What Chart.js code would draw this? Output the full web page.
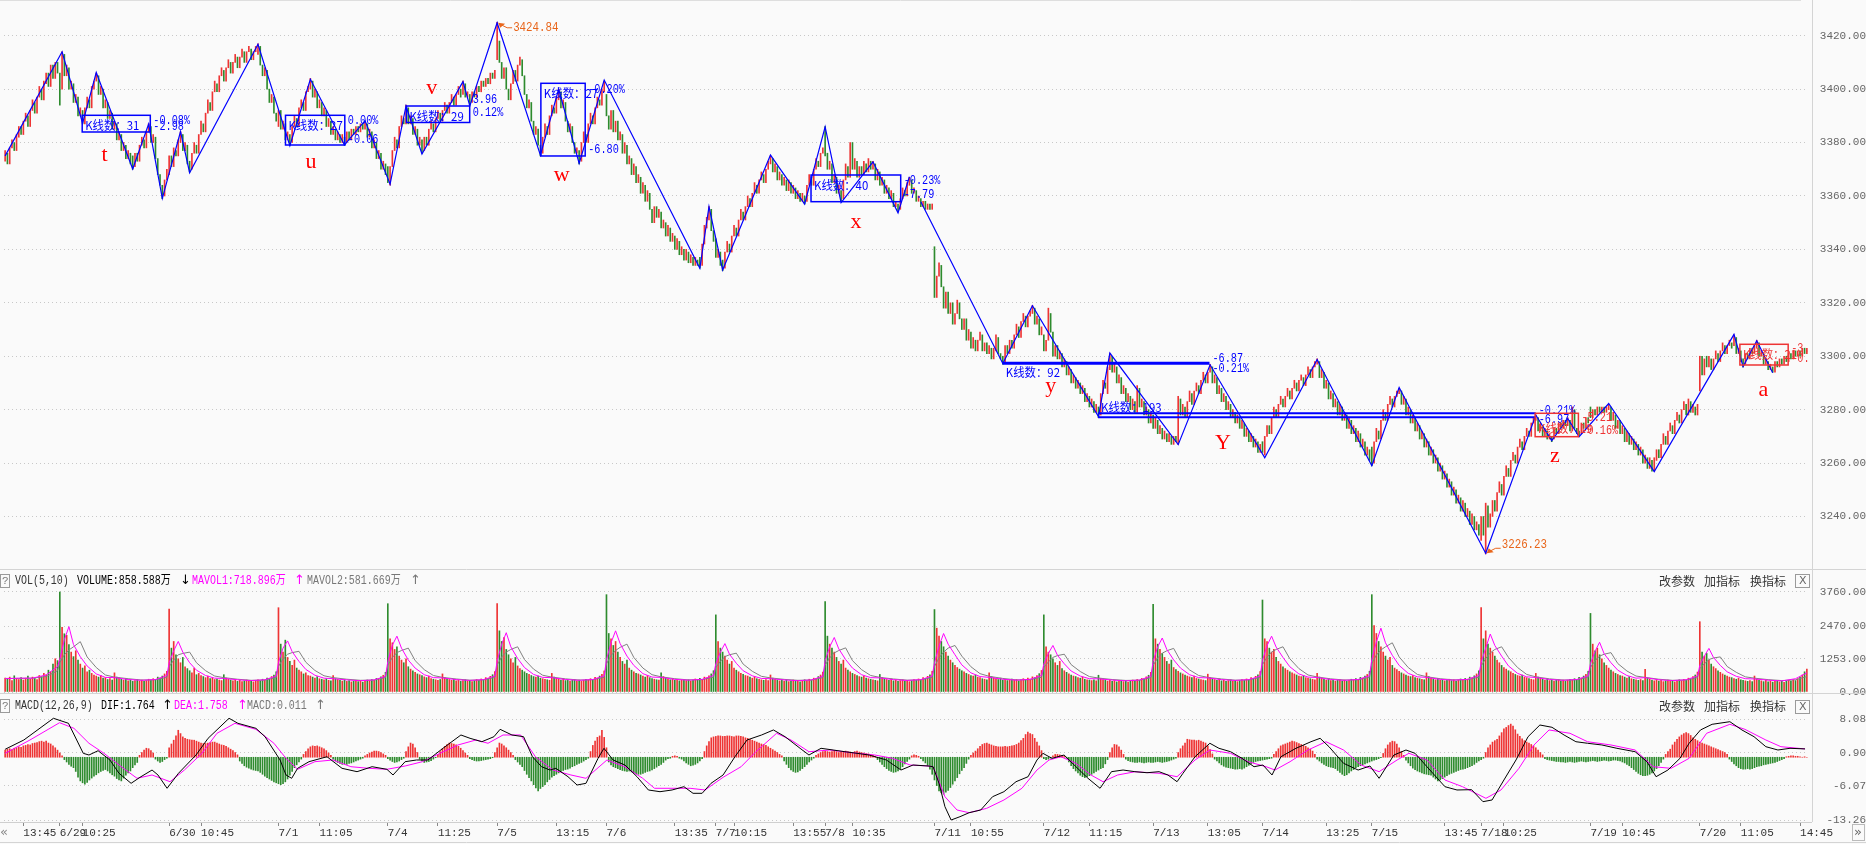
<!DOCTYPE html>
<html><head><meta charset="utf-8"><title>K线图</title>
<script src="https://cdn.jsdelivr.net/npm/chart.js@4.4.1/dist/chart.umd.min.js"></script>
<style>
html,body{margin:0;padding:0;background:#fafafa;overflow:hidden;}
#wrap{position:relative;width:1866px;height:844px;background:#fafafa;}
#wrap canvas{position:absolute;left:0;}
</style></head>
<body><div id="wrap">
<canvas id="cPrice" width="1866" height="570" style="top:0px;width:1866px;height:570px"></canvas>
<canvas id="cVol" width="1866" height="130" style="top:570px;width:1866px;height:130px"></canvas>
<canvas id="cMacd" width="1866" height="150" style="top:694px;width:1866px;height:150px"></canvas>
</div>
<script>
// ---------------- DATA ----------------
const days = ['6/28','6/29','6/30','7/1','7/4','7/5','7/6','7/7','7/8','7/11','7/12','7/13','7/14','7/15','7/18','7/19','7/20'];

const opens = [
3373,3376,3372,3378,3380,3377,3382,3386,3383,3388,3390,3386,3392,3395,3391,3397,3400,3396,3402,3406,
3401,3409,3404,3410,3406,3400,3413,3405,3408,3400,3402,3395,3397,3390,3392,3387,3393,3396,3393,3400,
3403,3405,3398,3400,3393,3395,3389,3391,3385,3387,3381,3383,3377,3379,3374,3376,3375,3371,3376,3373,
3379,3381,3378,3384,3386,3380,3382,3374,3368,3364,3360,3366,3368,3375,3371,3377,3375,3380,3383,3377,
3379,3373,3370,3376,3379,3376,3383,3387,3384,3391,3395,3392,3399,3402,3399,3405,3407,3403,3408,3410,
3406,3410,3412,3408,3412,3414,3410,3414,3415,3411,3414,3413,3416,3409,3405,3407,3400,3395,3397,3391,
3386,3392,3385,3387,3381,3383,3380,3386,3389,3386,3393,3395,3392,3399,3400,3403,3397,3399,3393,3395,
3390,3392,3386,3388,3383,3385,3381,3383,3380,3382,3380,3384,3381,3385,3383,3386,3384,3387,3385,3387,
3382,3384,3378,3380,3374,3376,3370,3372,3371,3364,3371,3377,3381,3378,3386,3389,3387,3393,3387,3389,
3383,3385,3379,3381,3377,3382,3379,3385,3387,3384,3389,3391,3388,3392,3394,3391,3395,3397,3394,3398,
3400,3398,3402,3397,3398,3395,3399,3397,3401,3399,3403,3401,3404,3402,3406,3404,3411,3418,3410,3404,
3408,3400,3396,3402,3407,3403,3409,3411,3405,3398,3393,3395,3388,3383,3385,3379,3376,3382,3386,3383,
3390,3393,3391,3396,3399,3393,3395,3388,3384,3386,3380,3376,3377,3373,3380,3383,3380,3387,3390,3387,
3393,3396,3394,3399,3398,3390,3385,3392,3384,3388,3381,3383,3376,3379,3372,3374,3368,3371,3365,3367,
3361,3364,3358,3361,3355,3350,3356,3352,3354,3348,3350,3345,3348,3343,3345,3340,3343,3338,3340,3336,
3339,3335,3337,3334,3336,3337,3334,3342,3348,3351,3355,3347,3344,3337,3339,3336,3333,3339,3342,3339,
3345,3348,3345,3351,3354,3351,3356,3359,3356,3361,3364,3361,3366,3368,3365,3370,3372,3374,3369,3371,
3366,3368,3364,3366,3362,3365,3361,3363,3359,3361,3358,3360,3358,3364,3367,3364,3370,3373,3371,3376,
3386,3376,3370,3372,3365,3367,3361,3362,3359,3366,3371,3367,3380,3370,3373,3367,3371,3368,3372,3369,
3373,3370,3372,3366,3369,3364,3366,3361,3363,3359,3361,3356,3357,3355,3359,3362,3360,3364,3366,3361,
3362,3358,3359,3356,3358,3355,3357,3355,3341,3322,3330,3334,3326,3318,3324,3316,3320,3312,3316,3320,
3314,3310,3314,3306,3309,3303,3306,3302,3306,3308,3302,3305,3301,3303,3299,3302,3307,3301,3300,3298,
3304,3301,3306,3303,3308,3311,3307,3313,3315,3311,3315,3316,3318,3312,3314,3308,3308,3302,3306,3316,
3309,3300,3304,3299,3301,3296,3298,3293,3295,3290,3292,3288,3290,3286,3288,3283,3285,3281,3283,3279,
3281,3278,3286,3290,3286,3295,3300,3294,3296,3290,3292,3286,3288,3283,3285,3280,3283,3279,3288,3281,
3283,3278,3280,3275,3278,3273,3276,3271,3273,3269,3271,3268,3270,3267,3270,3267,3284,3278,3281,3277,
3283,3286,3282,3287,3289,3286,3291,3293,3290,3294,3296,3290,3292,3286,3288,3283,3285,3280,3282,3277,
3279,3275,3277,3273,3275,3270,3272,3268,3270,3266,3268,3264,3268,3263,3270,3274,3271,3277,3280,3277,
3282,3284,3281,3285,3287,3284,3288,3290,3287,3291,3292,3289,3293,3295,3292,3296,3297,3298,3292,3294,
3288,3290,3284,3286,3281,3283,3278,3281,3276,3278,3273,3276,3271,3273,3268,3271,3266,3268,3263,3265,
3266,3260,3268,3272,3269,3276,3279,3276,3282,3284,3281,3285,3286,3287,3282,3284,3278,3280,3275,3277,
3272,3274,3269,3271,3266,3268,3263,3265,3260,3262,3257,3259,3254,3256,3251,3253,3248,3250,3245,3247,
3242,3245,3240,3242,3237,3240,3235,3237,3231,3240,3226,3244,3236,3240,3246,3242,3249,3252,3248,3255,
3258,3255,3261,3263,3260,3266,3268,3265,3270,3272,3270,3275,3276,3277,3272,3274,3270,3272,3269,3270,
3269,3273,3271,3275,3273,3276,3274,3276,3272,3280,3273,3272,3271,3275,3273,3277,3281,3277,3280,3278,
3281,3279,3281,3279,3280,3281,3276,3278,3273,3276,3271,3273,3268,3271,3267,3269,3265,3267,3263,3265,
3260,3262,3258,3261,3257,3261,3265,3262,3267,3270,3267,3272,3274,3271,3276,3278,3275,3280,3282,3278,
3283,3279,3281,3278,3287,3300,3293,3300,3296,3299,3295,3299,3301,3298,3302,3304,3301,3304,3305,3304,
3307,3301,3302,3299,3297,3301,3299,3303,3301,3303,3305,3300,3301,3297,3298,3295,3296,3294,3298,3296,
3299,3297,3300,3298,3301,3299,3302,3300,3302,3300,3303,3301
];
const closes = [
3377,3372,3378,3381,3377,3383,3386,3383,3388,3391,3386,3392,3396,3391,3397,3401,3396,3403,3406,3401,
3409,3404,3410,3406,3394,3414,3405,3409,3400,3403,3395,3398,3390,3393,3387,3393,3397,3393,3401,3403,
3406,3398,3401,3393,3396,3389,3392,3385,3388,3381,3384,3377,3380,3374,3377,3372,3370,3376,3373,3379,
3382,3378,3384,3387,3380,3383,3374,3368,3364,3359,3366,3370,3375,3371,3378,3375,3381,3384,3377,3380,
3372,3369,3376,3380,3376,3383,3388,3384,3391,3396,3392,3399,3403,3399,3405,3408,3403,3408,3411,3406,
3410,3413,3408,3412,3415,3410,3414,3416,3411,3414,3416,3417,3409,3405,3408,3400,3395,3398,3391,3388,
3392,3385,3388,3381,3384,3379,3386,3390,3386,3393,3396,3392,3399,3401,3404,3397,3400,3393,3396,3390,
3393,3386,3389,3383,3386,3381,3384,3380,3383,3379,3384,3381,3385,3383,3386,3384,3387,3385,3388,3382,
3385,3378,3381,3374,3377,3370,3373,3368,3365,3371,3377,3382,3378,3386,3390,3387,3394,3387,3390,3383,
3386,3379,3382,3376,3382,3379,3385,3388,3384,3389,3392,3388,3392,3395,3391,3395,3398,3394,3398,3401,
3397,3403,3397,3399,3394,3399,3397,3401,3399,3403,3401,3404,3402,3406,3404,3407,3425,3410,3404,3408,
3400,3396,3402,3407,3403,3409,3412,3405,3398,3393,3396,3388,3383,3386,3379,3375,3382,3387,3383,3390,
3394,3391,3397,3400,3393,3396,3388,3384,3387,3380,3376,3378,3372,3380,3384,3380,3387,3391,3387,3393,
3397,3394,3400,3403,3390,3385,3392,3384,3388,3381,3384,3376,3380,3372,3375,3368,3372,3365,3368,3361,
3365,3358,3362,3355,3350,3356,3352,3355,3348,3351,3345,3349,3343,3346,3340,3344,3338,3341,3336,3340,
3335,3338,3334,3337,3334,3333,3342,3349,3352,3356,3347,3343,3337,3340,3334,3332,3339,3343,3339,3345,
3349,3345,3351,3355,3351,3356,3360,3356,3361,3365,3361,3366,3369,3365,3370,3373,3375,3369,3372,3366,
3369,3364,3367,3362,3366,3361,3364,3359,3362,3358,3361,3357,3364,3368,3364,3370,3374,3371,3376,3378,
3375,3370,3373,3365,3368,3361,3364,3358,3366,3372,3367,3380,3370,3374,3367,3371,3368,3373,3369,3374,
3370,3373,3366,3370,3364,3367,3361,3364,3359,3362,3356,3358,3354,3359,3363,3360,3365,3367,3361,3363,
3358,3360,3356,3358,3355,3357,3355,3357,3322,3330,3335,3326,3318,3324,3316,3320,3312,3316,3321,3314,
3310,3314,3306,3310,3303,3307,3302,3306,3309,3302,3305,3301,3304,3299,3303,3308,3301,3299,3297,3304,
3301,3306,3303,3308,3312,3307,3313,3316,3311,3315,3317,3319,3312,3315,3308,3311,3302,3306,3318,3309,
3300,3304,3299,3302,3296,3299,3293,3296,3290,3293,3288,3291,3286,3289,3283,3286,3281,3284,3279,3282,
3277,3286,3291,3288,3296,3301,3294,3297,3290,3293,3286,3289,3283,3286,3280,3284,3279,3289,3281,3284,
3278,3281,3275,3279,3273,3277,3271,3274,3269,3272,3268,3271,3267,3270,3268,3285,3278,3282,3277,3283,
3287,3282,3287,3290,3286,3291,3294,3290,3294,3297,3290,3293,3286,3289,3283,3286,3280,3283,3277,3280,
3275,3278,3273,3276,3270,3273,3268,3271,3266,3269,3264,3267,3264,3270,3274,3271,3277,3281,3277,3282,
3285,3281,3285,3288,3284,3288,3291,3287,3291,3293,3289,3293,3296,3292,3296,3298,3299,3292,3295,3288,
3291,3284,3287,3281,3284,3278,3282,3276,3279,3273,3277,3271,3274,3268,3272,3266,3269,3263,3266,3261,
3259,3268,3273,3269,3276,3280,3276,3282,3285,3281,3285,3287,3288,3282,3285,3278,3281,3275,3278,3272,
3275,3269,3272,3266,3269,3263,3266,3260,3263,3257,3260,3254,3257,3251,3254,3248,3251,3245,3248,3242,
3246,3240,3243,3237,3241,3235,3238,3233,3240,3233,3245,3236,3241,3246,3242,3249,3253,3248,3255,3259,
3255,3261,3264,3260,3266,3269,3265,3270,3273,3270,3275,3277,3278,3272,3275,3270,3273,3269,3271,3268,
3273,3271,3275,3273,3276,3274,3277,3272,3281,3273,3271,3270,3275,3273,3277,3275,3277,3280,3278,3281,
3279,3281,3279,3281,3282,3276,3279,3273,3276,3271,3274,3268,3272,3267,3270,3265,3268,3263,3266,3260,
3263,3258,3262,3257,3262,3265,3262,3267,3271,3267,3272,3275,3271,3276,3279,3275,3280,3283,3278,3284,
3279,3282,3278,3282,3300,3293,3299,3296,3300,3295,3299,3302,3298,3302,3305,3301,3304,3306,3303,3308,
3301,3303,3298,3296,3301,3299,3303,3301,3304,3306,3300,3302,3297,3299,3295,3297,3294,3298,3296,3299,
3297,3300,3298,3301,3299,3302,3300,3302,3300,3303,3301,3303
];

// volume, unit 万
const volumes = [
520,480,560,430,610,500,470,540,450,520,600,480,560,510,470,620,580,700,650,820,760,1050,1250,1180,
3760,2430,2190,2130,1780,1500,1330,1550,1200,1050,900,980,760,820,700,640,600,560,620,520,540,470,500,450,
720,560,520,480,450,500,420,460,400,430,470,410,450,400,430,480,450,500,470,560,520,600,680,780,
3120,1650,1900,1400,1250,1100,1300,950,880,800,720,900,650,700,620,580,540,600,500,520,470,490,450,430,
650,520,480,450,420,470,400,440,390,420,450,400,430,380,420,460,430,480,450,520,500,580,640,760,
3170,1800,1500,1950,1300,1150,1000,1200,900,820,760,680,720,620,600,560,520,580,500,480,460,500,440,420,
620,500,470,440,410,460,400,430,380,410,440,390,420,370,410,450,420,470,440,510,490,570,630,740,
3320,2000,1850,1600,1700,1350,1200,1100,1250,950,860,800,740,680,650,620,570,540,600,500,480,460,440,470,
680,540,500,470,440,480,420,450,400,430,460,410,440,390,430,470,440,490,460,540,510,590,650,770,
3320,2300,1900,2050,1600,1400,1250,1100,1300,980,880,820,760,700,660,620,580,560,600,520,500,480,460,440,
700,560,520,480,450,500,430,460,410,440,470,420,450,400,440,480,450,500,470,550,520,600,660,790,
3660,2200,2000,1750,1900,1500,1300,1150,1050,1200,900,820,760,700,680,640,600,560,620,540,500,480,460,450,
720,580,530,490,460,510,440,470,420,450,480,430,460,410,450,490,460,510,480,560,530,610,680,800,
2900,1900,1650,1500,1350,1200,1050,1150,900,820,760,700,660,620,600,560,520,580,500,480,460,440,470,430,
640,520,480,450,420,470,410,440,390,420,450,400,430,380,420,460,430,480,450,520,500,580,640,750,
3400,2100,1800,1650,1500,1300,1150,1050,1200,900,820,760,700,660,620,580,560,600,520,500,480,460,440,420,
660,540,500,470,440,490,420,450,400,430,460,410,440,390,430,470,440,490,460,540,510,590,650,780,
3100,2400,2100,1900,1700,1500,1350,1200,1100,1000,920,860,800,760,700,660,620,600,640,560,540,500,480,460,
720,580,540,500,470,520,450,480,430,460,490,440,470,420,460,500,470,520,490,570,540,620,690,810,
2900,1700,1500,1400,1250,1100,1000,1150,880,800,740,680,640,600,580,540,520,560,480,460,450,430,460,420,
630,510,470,440,410,460,400,430,380,410,440,390,420,370,410,450,420,470,440,510,490,570,630,740,
3300,2000,1800,1600,1450,1300,1150,1050,1200,920,840,780,720,680,640,600,570,540,600,510,490,470,450,430,
670,540,500,470,440,490,420,450,400,430,460,410,440,390,430,470,440,490,460,540,510,590,650,770,
3459,2000,1900,1650,1500,1600,1300,1150,1050,950,880,820,760,720,680,640,600,580,620,540,520,500,480,460,
700,560,520,480,450,500,430,460,410,440,470,420,450,400,440,480,450,500,470,550,520,600,660,780,
3660,2500,2200,1900,1700,1500,1350,1200,1300,1000,900,840,780,720,680,640,600,580,620,540,520,500,480,460,
720,580,530,490,460,510,440,470,420,450,480,430,460,410,450,490,460,510,480,560,530,610,680,800,
3170,2000,2300,1800,1650,1500,1350,1200,1100,1000,920,860,800,760,700,660,620,600,640,560,540,500,480,460,
700,560,520,480,450,500,430,460,410,440,470,420,450,400,440,480,450,500,470,550,520,600,660,780,
2955,1800,1550,1650,1400,1250,1100,1000,900,820,760,700,660,620,600,560,520,580,500,480,460,440,470,430,
850,520,480,450,420,470,410,440,390,420,450,400,430,380,420,460,430,480,450,520,500,580,640,750,
2643,1500,1350,1450,1200,1050,950,880,800,740,680,640,600,560,540,500,480,520,460,440,420,400,430,390,
600,480,450,420,390,440,380,410,370,400,430,380,410,360,400,440,410,460,430,500,560,640,760,858
];

// MAVOL lines read at these bar offsets inside each trading day
const maOffsets = [0,2,4,6,9,12,16,20,24,30,36,42,47];
const mavol1 = [
500,520,520,640,950,
1232,1968,2458,1786,1326,978,680,550,540,470,440,470,620,
1100,1550,1900,1500,1100,820,620,520,510,460,430,460,600,
1110,1650,1920,1520,1150,850,630,520,500,455,425,455,590,
1150,1760,2100,1650,1200,900,650,540,530,465,435,465,600,
1160,1800,2230,1700,1260,920,660,550,540,470,440,470,610,
1220,1850,2300,1820,1350,1000,690,560,550,475,445,475,620,
1060,1500,1820,1420,1080,800,610,510,500,455,425,455,590,
1170,1700,2050,1620,1220,900,650,540,530,465,435,465,600,
1100,1720,2200,1800,1400,1020,720,580,550,480,445,475,620,
1050,1450,1750,1380,1060,790,600,500,495,450,420,450,590,
1150,1700,2030,1600,1210,900,650,540,530,465,435,465,600,
1190,1740,2100,1690,1300,950,680,560,545,470,440,470,610,
1230,1880,2400,1850,1380,1000,700,570,550,475,445,475,620,
1110,1650,2180,1750,1350,980,700,570,545,470,440,470,610,
1070,1530,1870,1440,1100,820,620,520,540,460,430,460,600,
1000,1350,1640,1300,1000,760,590,500,490,445,415,500,719
];
const mavol2 = [
510,510,520,580,800,
1100,1400,1580,1700,1892,1318,920,640,560,500,450,460,550,
950,1200,1400,1450,1500,1100,800,600,540,480,440,450,540,
960,1250,1420,1480,1530,1120,810,610,540,480,440,450,540,
1000,1300,1480,1560,1650,1180,840,620,550,490,445,455,545,
1010,1320,1500,1600,1700,1220,860,630,560,495,450,460,550,
1060,1370,1560,1680,1800,1300,900,650,570,500,455,465,555,
920,1150,1330,1400,1460,1050,780,590,530,475,440,450,540,
1010,1280,1470,1560,1660,1180,840,620,550,490,445,455,545,
960,1280,1500,1650,1750,1350,950,690,590,510,455,465,555,
920,1130,1300,1370,1420,1030,770,580,525,470,435,445,535,
1000,1280,1460,1550,1640,1170,830,620,550,490,445,455,545,
1030,1310,1500,1600,1700,1250,880,640,565,495,450,460,550,
1060,1390,1580,1700,1850,1320,920,660,575,500,455,465,555,
970,1260,1470,1600,1700,1300,920,660,570,495,450,460,550,
930,1170,1350,1420,1480,1070,790,600,550,480,440,450,540,
880,1060,1220,1280,1320,960,740,570,520,465,430,460,582
];

// MACD histogram, one value per bar
const macdHist = [
1.5,1.7,1.8,1.6,1.9,2.0,2.2,2.1,2.4,2.5,2.7,2.6,2.9,3.0,3.1,3.3,3.4,3.2,3.4,3.0,2.8,2.4,2.0,1.5,0.9,0.3,
-0.5,-1.0,-1.5,-1.9,-2.2,-3.0,-4.2,-5.0,-5.4,-5.7,-5.3,-4.8,-4.4,-4.0,-3.7,-3.3,-3.0,-2.8,-2.6,-2.9,-3.3,-3.7,-4.0,-4.5,-4.8,-5.0,-4.4,-3.8,-3.3,-2.9,-2.2,-1.6,-1.1,
0.4,1.0,1.5,1.9,1.8,1.4,0.9,
-0.4,-0.8,-1.1,-0.9,-0.5,-0.2,
2.0,2.8,3.6,4.5,5.7,5.0,4.3,4.0,3.8,3.7,3.6,3.6,3.4,3.2,3.0,2.9,2.9,3.0,3.1,3.2,3.2,3.0,2.8,2.6,2.5,2.3,2.0,1.7,1.4,1.0,0.5,
-0.8,-1.3,-1.8,-2.1,-2.3,-2.5,-2.7,-2.8,-2.9,-3.2,-3.6,-4.0,-4.3,-4.6,-4.9,-5.2,-5.4,-5.6,-5.8,-5.6,-5.2,-4.6,-3.8,-3.0,-2.2,-1.6,-1.0,-0.4,
0.6,1.2,1.8,2.2,2.4,2.3,2.4,2.2,2.0,1.8,1.4,0.9,0.4,
-0.4,-0.8,-1.1,-1.3,-1.5,-1.4,-1.5,-1.3,-1.2,-1.0,-0.8,-0.6,-0.4,-0.2,
0.3,0.6,0.9,1.1,1.3,1.3,1.2,1.0,0.7,0.4,
-0.3,-0.6,-0.9,-1.1,-1.0,-0.8,-0.5,-0.2,
1.2,2.2,3.0,2.8,2.0,1.0,
-0.4,-0.8,-1.1,-1.0,-0.9,-0.7,-0.4,-0.1,
0.6,1.2,1.8,2.3,2.7,3.0,2.9,2.8,2.6,2.3,1.9,1.4,0.9,0.4,
-0.3,-0.5,-0.7,-0.8,-0.8,-0.7,-0.6,-0.5,-0.4,-0.3,-0.1,
1.0,2.0,3.0,2.8,2.4,2.0,1.5,1.0,0.4,
-0.5,-1.0,-1.5,-2.0,-2.8,-3.6,-4.3,-5.0,-5.8,-6.5,-7.1,-6.6,-6.2,-5.8,-5.2,-4.7,-4.2,-3.9,-3.6,-3.3,-3.0,-2.8,-2.6,-2.5,-2.3,-2.0,-1.8,-1.5,-1.3,-1.1,-0.8,-0.5,-0.2,
1.2,2.5,3.4,4.2,4.5,5.7,4.2,2.0,
-1.0,-1.6,-2.0,-2.2,-2.4,-2.6,-2.8,-2.9,-3.0,-2.9,-3.1,-3.3,-3.5,-3.6,-3.6,-3.4,-3.2,-3.0,-2.9,-2.7,-2.4,-2.1,-1.8,-1.5,-1.1,-0.6,
-0.3,-0.2,0.2,0.3,0.2,-0.2,-0.4,
-0.8,-1.2,-1.5,-1.8,-1.7,-1.5,-1.2,-0.8,-0.3,
1.2,2.4,3.3,4.1,4.3,4.4,4.5,4.5,4.4,4.4,4.5,4.5,4.4,4.3,4.5,4.5,4.4,4.3,4.1,4.0,3.8,3.6,3.4,3.2,3.0,2.8,2.7,2.5,2.2,1.9,1.6,1.3,1.0,0.6,0.3,
-0.8,-1.5,-2.2,-2.7,-3.0,-3.2,-3.1,-2.8,-2.4,-2.0,-1.5,-1.0,-0.6,-0.2,
0.4,0.7,1.0,1.2,1.3,1.2,1.1,1.2,1.3,1.2,1.0,1.1,1.2,1.3,1.2,1.1,1.0,1.2,1.3,1.1,1.0,0.9,0.8,0.7,0.6,0.4,0.2,
-0.5,-1.0,-1.5,-2.0,-2.4,-2.8,-3.0,-3.2,-3.1,-2.9,-2.5,-2.0,-1.4,-0.9,-0.4,
0.3,0.5,0.4,0.2,-0.3,-0.8,-1.2,-1.8,-2.5,
-3.6,-4.8,-6.0,-7.1,-7.5,-7.8,-7.4,-7.0,-6.4,-5.7,-5.0,-4.3,-3.5,-2.8,-2.2,-1.3,-0.4,
0.4,0.9,1.3,1.8,2.3,2.7,2.9,3.0,2.8,2.6,2.4,2.3,2.2,2.2,2.2,2.3,2.2,2.3,2.4,2.5,2.7,3.0,3.5,4.0,4.8,5.3,5.0,4.8,4.0,3.2,2.4,1.4,
-0.3,-0.5,-0.4,-0.2,
0.3,0.6,0.6,0.5,0.4,0.2,-0.2,
-1.0,-1.8,-2.4,-2.9,-3.3,-3.8,-4.1,-4.3,-4.1,-3.9,-3.6,-3.3,-3.0,-2.7,-2.4,-2.2,-1.4,-0.5,
1.0,2.0,2.7,2.6,2.2,1.5,0.6,
-0.4,-0.7,-0.9,-1.0,-1.1,-1.1,-1.0,-1.1,-1.2,-1.1,-1.0,-1.1,-1.1,-1.0,-0.9,-1.0,-1.1,-1.0,-0.9,-0.8,-0.6,-0.4,-0.2,
1.0,1.8,2.4,3.0,3.8,3.7,3.6,3.6,3.5,3.6,3.4,3.2,3.0,2.4,1.6,0.7,
-0.4,-0.8,-1.2,-1.6,-1.9,-2.1,-2.2,-2.3,-2.4,-2.5,-2.5,-2.4,-2.5,-2.3,-2.0,-1.7,-1.4,-1.1,-0.9,-0.8,-0.7,-0.6,-0.5,-0.4,-0.3,-0.2,
0.6,1.2,1.8,2.4,2.6,2.8,3.0,3.2,3.4,3.3,3.1,2.9,2.7,2.5,2.3,2.0,1.7,1.3,0.6,
-0.4,-0.8,-1.2,-1.5,-1.8,-2.0,-2.1,-2.2,-2.4,-2.8,-3.2,-3.6,-3.9,-3.7,-3.3,-2.9,-2.6,-2.2,-2.0,-1.8,-1.6,-1.4,-1.2,-1.0,-0.8,-0.6,-0.5,-0.3,-0.1,
0.8,1.8,2.6,3.1,3.4,3.3,2.8,2.0,1.2,0.4,
-0.6,-1.2,-1.8,-2.3,-2.6,-2.9,-3.1,-3.3,-3.5,-3.6,-3.7,-3.8,-4.2,-4.6,-5.0,-4.8,-4.5,-4.2,-3.9,-3.6,-3.4,-3.2,-3.0,-2.8,-2.6,-2.5,-2.4,-2.2,-2.0,-1.8,-1.5,-1.1,-0.8,-0.5,-0.2,
1.0,2.0,2.6,3.2,3.5,3.8,4.5,5.2,6.0,6.3,6.7,7.0,6.6,5.8,4.9,4.4,3.9,3.5,3.2,3.0,2.7,2.4,2.0,1.5,1.0,0.5,
-0.3,-0.5,-0.6,-0.7,-0.8,-0.9,-0.9,-1.0,-1.0,-1.1,-1.0,-0.9,-1.0,-1.1,-1.0,-0.9,-0.8,-0.9,-1.0,-0.9,-0.8,-0.7,-0.8,-0.9,-0.8,-0.7,-0.6,-0.7,-0.8,-0.7,-0.6,-0.6,-0.7,-0.8,-1.0,-1.2,-1.5,-1.8,-2.2,-2.6,-3.0,
-3.4,-3.7,-3.9,-3.9,-3.8,-3.6,-3.3,-2.9,-2.4,-1.8,-1.1,-0.4,
0.6,1.2,1.7,2.6,3.2,3.8,4.3,4.7,5.0,5.2,5.0,4.6,4.1,3.8,3.5,3.2,3.0,2.8,2.6,2.4,2.2,2.0,1.8,1.6,1.4,1.2,1.0,0.6,
-0.4,-0.9,-1.4,-1.8,-2.2,-2.4,-2.5,-2.5,-2.4,-2.5,-2.4,-2.2,-2.0,-1.9,-1.8,-1.6,-1.5,-1.4,-1.3,-1.2,-1.1,-0.9,-0.7,-0.5,-0.3,
0.1,0.2,0.3,0.3,0.2,0.2,0.1,0.0,0.1,0.0
];

// DIF / DEA read as [bar, value]
const difPts = [[0,1.68],[8.2,3.64],[21.2,8.23],[27.8,7.17],[34.3,0.83],[36.8,0.47],[40.8,1.38],[46,-0.58],[50,-3.39],[55.3,-5.51],[59.2,-4.24],[64.5,-2.7],[67.1,-3.75],[71.1,-6.56],[76.1,-3.39],[83.8,0.47],[89.1,4.0],[98.3,8.23],[102.2,7.17],[110.1,6.11],[114.1,4.34],[120.7,-0.58],[123.3,-3.75],[125.8,-4.45],[128.4,-2.34],[133.4,-0.94],[141.3,0.11],[147.9,-2.34],[154.5,-3.05],[161.1,-2.0],[167.6,-2.55],[170.3,-3.75],[175.6,-0.94],[180.6,-0.58],[185.6,-0.58],[192.2,1.89],[200.1,4.7],[204.1,4.0],[209.3,3.28],[214.6,4.34],[217.3,5.9],[222.5,4.7],[227.6,4.34],[231.5,0.11],[235.5,-2.0],[239.2,-2.7],[241.8,-2.34],[247.1,-4.11],[251.1,-5.87],[255,-5.51],[260.3,-0.23],[262.9,1.89],[266.9,-0.58],[272.1,-1.64],[277.4,-4.11],[282.4,-6.92],[287.5,-7.28],[292.8,-6.92],[298,-6.22],[302,-7.62],[306,-7.62],[309.9,-5.51],[315.2,-3.75],[320.4,0.11],[325.7,3.64],[332.1,4.7],[337.3,5.76],[342.4,4.34],[349,1.89],[352.9,0.47],[358.2,1.89],[363.5,1.53],[368.7,1.17],[374,0.83],[379.3,0.47],[386.9,-0.58],[393.3,-2.7],[398.6,-1.64],[405.2,-1.85],[407.4,-2.0],[410,-5.51],[412.6,-10.45],[415.3,-13.26],[419.2,-12.56],[423.2,-11.72],[428.3,-11.15],[433.5,-8.34],[438.5,-7.28],[443.8,-5.17],[449.1,-4.11],[453,-0.58],[455.6,0.83],[459.6,-0.23],[464.9,0.47],[470.1,-2.0],[475.4,-4.45],[480.7,-6.56],[485.7,-3.05],[490.8,-2.7],[496,-3.05],[501.3,-3.27],[506.6,-3.05],[510.5,-3.75],[514.5,-5.17],[517.1,-3.39],[522.4,0.11],[528.9,2.95],[532.9,1.89],[538,1.17],[543,-0.23],[548.3,-2.0],[552.2,-1.64],[556.2,-3.75],[560.1,0.11],[566.7,1.89],[573.3,3.28],[577.3,4.0],[581.2,2.23],[587.6,-1.28],[594,-2.7],[599.2,-1.85],[603.2,-4.45],[609.7,0.47],[615,1.53],[619,0.83],[624.2,-2.0],[632.1,-6.22],[637.4,-6.92],[643.8,-6.85],[648.8,-9.39],[652.8,-9.03],[658,-4.81],[663.3,-0.58],[668.6,4.34],[673.8,6.81],[679.1,6.33],[684.4,4.7],[689.6,3.28],[694.7,2.95],[701,2.59],[707.6,1.89],[715.6,1.17],[720.8,-0.94],[724.8,-4.11],[730,-2.7],[735.3,-0.23],[739.3,2.95],[744.3,5.76],[749.4,6.96],[757.2,7.51],[762.5,5.76],[767.8,4.34],[773,2.23],[778.3,1.53],[783.6,1.89],[790.2,1.76]];
const deaPts = [[0,0.83],[10.9,3.64],[23.9,7.3],[30.2,6.11],[36.8,2.95],[43.4,0.83],[50,-1.64],[57.9,-4.45],[64.5,-3.75],[72.4,-5.17],[78.7,-2.7],[86.4,0.83],[93,5.06],[100.9,7.17],[110.1,5.9],[118,2.95],[123.3,-0.23],[128.4,-2.55],[136,-0.94],[143.9,-0.58],[151.8,-2.0],[159.7,-2.34],[167.6,-2.55],[175.6,-1.85],[183.2,-0.94],[190.9,0.83],[198.8,2.59],[206.7,3.64],[212,2.95],[218.6,4.7],[226.3,4.7],[232.8,0.11],[240.5,-2.7],[248.4,-3.75],[255,-4.45],[264.2,-0.58],[272.1,-2.0],[279.9,-4.45],[285.1,-6.56],[292.8,-6.56],[300.7,-6.56],[307.3,-6.92],[315.2,-4.24],[323.1,-2.0],[329.6,1.17],[338.7,5.06],[345,3.64],[352.9,1.17],[362.1,1.53],[371.4,0.97],[381.9,0.47],[389.6,-0.23],[397.3,-1.64],[405.2,-1.85],[407.4,-2.0],[412.6,-8.34],[417.9,-11.15],[423.2,-11.72],[430.9,-10.8],[438.5,-9.03],[446.4,-6.56],[453,-2.7],[458.3,-0.58],[463.5,0.11],[470.1,-1.28],[476.7,-3.75],[482,-5.17],[488.4,-3.75],[496,-3.07],[506.6,-3.39],[514.5,-4.11],[522.4,-0.58],[528.9,1.53],[538,0.83],[545.7,-0.94],[553.6,-2.0],[557.5,-2.7],[564.1,-0.94],[572,1.53],[579.9,3.28],[587.6,1.53],[595.3,-1.64],[603.2,-3.05],[611.1,-0.58],[616.3,0.83],[624.2,-0.58],[632.1,-4.81],[639.8,-6.22],[650.1,-8.68],[656.7,-6.92],[664.6,-2.34],[671.2,2.59],[677.8,5.76],[687,5.06],[694.7,3.28],[705,2.59],[715.6,1.53],[723.5,-2.0],[731.4,-2.34],[739.3,-0.23],[747,5.06],[757.2,6.96],[763.8,5.9],[773,3.64],[779.6,2.23],[790.2,1.76]];

// zig-zag pivots [bar, price]; null marks a break
const zigzag = [[0,3375],[25,3414],[34,3387.2],[40,3406.2],[56,3370.1],[63,3386.9],[69,3359.1],[77,3384.1],[81,3368.7],[111,3416.8],[125,3378.8],[134,3403.7],[149,3379.1],[158,3388.2],[169,3364.4],[176,3393.7],[183,3375.7],[201,3402.8],[204,3393.7],[216,3424.84],[235,3375.3],[243,3400.0],[252,3372.2],[263,3403.4],[305,3332.9],[309,3356.0],[315,3332.3],[336,3375.3],[351,3357.0],[360,3385.9],[367,3357.5],[381,3372.8],[392,3353.7],[397,3367.2],[399.5,null],[402,3357.8],[438,3297.3],[451,3318.9],[480,3277.4],[485,3301.2],[515,3266.9],[529,3296.8],[553,3262.0],[576,3298.8],[600,3259.0],[612,3288.3],[650,3226.23],[672,3278.0],[679,3268.4],[686,3276.7],[691,3269.9],[704,3282.3],[724,3256.8],[759,3308.2],[763,3296.1],[769,3305.8],[776,3293.8]];

const priceTicks = [3240,3260,3280,3300,3320,3340,3360,3380,3400,3420];
const volTicks = [0,1253,2470,3760];
const macdTicks = [-13.26,-6.07,0.90,8.08];
const xTickStamps = ['6/28 13:45','6/29 09:35','6/29 10:25','6/30 09:35','6/30 10:45','7/1 09:35','7/1 11:05','7/4 09:35','7/4 11:25','7/5 09:35','7/5 13:15','7/6 09:35','7/6 13:35','7/7 09:35','7/7 10:15','7/7 13:55','7/8 09:35','7/8 10:35','7/11 09:35','7/11 10:55','7/12 09:35','7/12 11:15','7/13 09:35','7/13 13:05','7/14 09:35','7/14 13:25','7/15 09:35','7/15 13:45','7/18 09:35','7/18 10:25','7/19 09:35','7/19 10:45','7/20 09:35','7/20 11:05','7/20 14:45'];

const RED='#ee3434', GREEN='#2e8b2e', BLUE='#0000ff', ORANGE='#e8651a', MAG='#ff00ff';
const boxes = [
 {kind:'rect', from:33.83, to:63.73, hi:3390.2, lo:3383.95, color:BLUE, label:'K线数：31', labelP:3386.5, notes:[['-0.08%',3388.2],['-2.98',3385.8]]},
 {kind:'rect', from:123.08, to:149.12, hi:3390.2, lo:3379.08, color:BLUE, label:'K线数：27', labelP:3386.5, notes:[['0.00%',3388.2],['-0.06',3381.2]]},
 {kind:'rect', from:176.2, to:203.95, hi:3393.68, lo:3387.51, color:BLUE, label:'K线数：29', labelP:3389.9, notes:[['3.96',3395.9],['0.12%',3391.2]]},
 {kind:'rect', from:235.2, to:254.66, hi:3402.18, lo:3374.97, color:BLUE, label:'K线数：27', labelP:3398.2, notes:[['-0.20%',3399.9],['-6.80',3377.2]]},
 {kind:'rect', from:353.8, to:393.17, hi:3367.85, lo:3357.86, color:BLUE, label:'K线数：40', labelP:3364.1, notes:[['-0.23%',3365.6],['-7.79',3360.4]]},
 {kind:'line', from:438.0, to:528.74, hi:3297.36, lo:3297.36, color:BLUE, label:'K线数：92', labelP:3293.8, notes:[['-6.87',3299.2],['-0.21%',3295.1]]},
 {kind:'double', from:479.8, to:671.96, hi:3278.64, lo:3277.14, color:BLUE, label:'K线数：193', labelP:3280.9, notes:[['-0.21%',3279.5],['-6.97',3276.1]]},
 {kind:'rect', from:671.7, to:690.7, hi:3278.64, lo:3269.88, color:RED, label:'K线数：19', labelP:3273.0, notes:[['-5.21',3276.8],['-0.16%',3272.0]]},
 {kind:'rect', from:761.6, to:782.8, hi:3304.47, lo:3296.72, color:RED, label:'K线数：21', labelP:3300.5, notes:[['-3.80',3302.7],['-0.12%',3298.9]]}
];
const waveLetters = [['t',43.7,3375.3],['u',134.3,3372.5],['v',187.3,3400.3],['w',244.3,3367.9],['x',373.5,3350.1],['y',459.0,3288.6],['Y',534.7,3267.4],['z',680.4,3262.4],['a',771.9,3287.1]];
const extremes = [[216,3424.84,'high'],[650,3226.23,'low']];

// ---------------- BUILD ----------------
function hhmm(m){return String(Math.floor(m/60)).padStart(2,'0')+':'+String(m%60).padStart(2,'0');}
const dayTimes=[];
for(let m=9*60+35;m<=11*60+30;m+=5)dayTimes.push(hhmm(m));
for(let m=13*60+5;m<=15*60;m+=5)dayTimes.push(hhmm(m));
const categories=[];
days.forEach((d,k)=>dayTimes.forEach((t,j)=>{ if(k===0&&j<24)return; categories.push(d+' '+t); }));
const nBars = categories.length;

const upBar = closes.map((c,i)=>c>=opens[i]);
const candleData = opens.map((o,i)=>({x:i,y:[o,closes[i]]}));
const volData = volumes.map((v,i)=>({x:i,y:v}));
const histData = macdHist.map((v,i)=>({x:i,y:v}));
const zigData = zigzag.map(p=>({x:p[0],y:p[1]}));
const difData = difPts.map(p=>({x:p[0],y:p[1]}));
const deaData = deaPts.map(p=>({x:p[0],y:p[1]}));
const ma1Data=[], ma2Data=[];
{ let n=0; for(let d=0; d<days.length; d++){ const start=-24+48*d; maOffsets.forEach(o=>{ if(start+o<0)return; ma1Data.push({x:start+o,y:mavol1[n]}); ma2Data.push({x:start+o,y:mavol2[n]}); n++; }); } }

Chart.defaults.font.family = "'Liberation Mono', monospace";
const common = {responsive:false, animation:false, devicePixelRatio:1, events:[],
  plugins:{legend:{display:false}, tooltip:{enabled:false}}};

function xHidden(){ return {type:'linear', min:-0.5, max:nBars-0.5, offset:false, display:false, grid:{display:false, offset:false}}; }
function yScale(min,max,ticks,pad){
  return {position:'right', min:min, max:max,
    afterFit(s){ s.width = 58; s.paddingTop = 0; s.paddingBottom = 0; },
    afterBuildTicks(s){ s.ticks = ticks.map(v=>({value:v})); },
    grid:{display:true, color:'#c8c8c8', lineWidth:1, drawTicks:false},
    border:{display:false, dash:[1,3]},
    ticks:{color:'#666', padding:pad, crossAlign:'far', font:{family:"'Liberation Mono'", size:11}, callback:v=>Number(v).toFixed(2)}};
}
// keep value->pixel mapping identical to the reference panels
function pin(chart, f){
  const a = chart.chartArea, ys = chart.options.scales.y;
  const mx = f(a.top), mn = f(a.bottom);
  if (Math.abs(ys.max-mx) > 1e-3 || Math.abs(ys.min-mn) > 1e-3) { ys.max = mx; ys.min = mn; chart.update('none'); }
}
function condText(ctx,s,x,y,color,font,sx){
  ctx.save(); ctx.font=font; ctx.fillStyle=color; ctx.textBaseline='middle'; ctx.textAlign='left';
  ctx.translate(x,y); ctx.scale(sx,1); ctx.fillText(s,0,0); ctx.restore();
}
function line(ctx,x0,y0,x1,y1,c){ ctx.save(); ctx.strokeStyle=c; ctx.lineWidth=1; ctx.beginPath(); ctx.moveTo(x0,y0); ctx.lineTo(x1,y1); ctx.stroke(); ctx.restore(); }
function header(ctx, items, cy, boxY){
  ctx.save();
  ctx.strokeStyle='#9a9a9a'; ctx.lineWidth=1; ctx.strokeRect(0.5, cy-6.5, 9, 13);
  condText(ctx,'?',2,cy,'#777',"11px 'Liberation Mono'",1);
  items.forEach(it=>{
    if(it[0]==='↑'||it[0]==='↓') condText(ctx,it[0],it[1],cy,it[2],"13px 'DejaVu Sans'",1);
    else condText(ctx,it[0],it[1],cy,it[2],"12px 'Liberation Mono', 'Noto Sans CJK SC'",0.83);
  });
  [['改参数',1659],['加指标',1704],['换指标',1750]].forEach(b=>condText(ctx,b[0],b[1],cy,'#333',"12px 'Noto Sans CJK SC'",1));
  ctx.strokeStyle='#9a9a9a'; ctx.strokeRect(1795.5, boxY+0.5, 14, 13);
  condText(ctx,'X',1799,boxY+7,'#666',"11px 'DejaVu Sans'",1);
  ctx.restore();
}

const priceOverlay = {id:'priceOverlay', afterDatasetsDraw(chart){
  const {ctx, chartArea:a, scales:{x,y}} = chart;
  ctx.save(); ctx.beginPath(); ctx.rect(a.left, a.top, a.right-a.left, a.bottom-a.top); ctx.clip();
  boxes.forEach(b=>{
    const x0=x.getPixelForValue(b.from), x1=x.getPixelForValue(b.to), y0=y.getPixelForValue(b.hi), y1=y.getPixelForValue(b.lo);
    ctx.strokeStyle=b.color;
    if(b.kind==='line'){ ctx.lineWidth=3; ctx.beginPath(); ctx.moveTo(x0,y0); ctx.lineTo(x1,y0); ctx.stroke(); }
    else if(b.kind==='double'){ ctx.lineWidth=2; ctx.beginPath(); ctx.moveTo(x0,y0); ctx.lineTo(x1,y0); ctx.moveTo(x0,y1); ctx.lineTo(x1,y1); ctx.stroke(); }
    else { ctx.lineWidth=1.5; ctx.strokeRect(x0,y0,x1-x0,y1-y0); }
    condText(ctx,b.label,x0+3,y.getPixelForValue(b.labelP),b.color,"12px 'Noto Sans CJK SC'",0.95);
    b.notes.forEach(n=>condText(ctx,n[0],x1+3,y.getPixelForValue(n[1]),b.color,"12px 'Liberation Mono'",0.85));
  });
  waveLetters.forEach(l=>{
    ctx.save(); ctx.font="22px 'Liberation Serif'"; ctx.fillStyle='#ff0000'; ctx.textAlign='center'; ctx.textBaseline='middle';
    ctx.fillText(l[0], x.getPixelForValue(l[1]), y.getPixelForValue(l[2])); ctx.restore();
  });
  extremes.forEach(e=>{
    const px=x.getPixelForValue(e[0]), py=y.getPixelForValue(e[1]); const s = e[2]==='high'?1:-1;
    ctx.save(); ctx.strokeStyle=ORANGE; ctx.fillStyle=ORANGE; ctx.lineWidth=1;
    ctx.beginPath(); ctx.moveTo(px+1,py); ctx.lineTo(px+8,py+1*s); ctx.lineTo(px+3,py+5*s); ctx.closePath(); ctx.fill();
    ctx.beginPath(); ctx.moveTo(px+4,py+2*s); ctx.lineTo(px+10,py+5*s); ctx.lineTo(px+15,py+5*s); ctx.stroke();
    ctx.restore();
    condText(ctx,e[1].toFixed(2),px+16,py+(s>0?5:-8),ORANGE,"12px 'Liberation Mono'",0.9);
  });
  ctx.restore();
}};
const priceFrame = {id:'priceFrame', afterDraw(chart){
  const ctx=chart.ctx;
  line(ctx,0,0.5,1801,0.5,'#dedede');
  line(ctx,0,569.5,1866,569.5,'#d4d4d4');
  line(ctx,1812.5,0,1812.5,570,'#d4d4d4');
}};
const volFrame = {id:'volFrame', afterDraw(chart){
  const ctx=chart.ctx;
  line(ctx,0,123.5,1866,123.5,'#d4d4d4');
  line(ctx,1812.5,0,1812.5,124,'#d4d4d4');
  header(ctx,[['VOL(5,10)',15,'#333'],['VOLUME:858.588万',77,'#000'],['↓',180,'#000'],['MAVOL1:718.896万',192,MAG],['↑',294,MAG],['MAVOL2:581.669万',307,'#777'],['↑',410,'#777']],11,4);
}};
const macdFrame = {id:'macdFrame', afterDraw(chart){
  const ctx=chart.ctx;
  line(ctx,0,128.5,1812,128.5,'#cfcfcf');
  line(ctx,0,148.5,1866,148.5,'#d4d4d4');
  line(ctx,1812.5,0,1812.5,128,'#d4d4d4');
  header(ctx,[['MACD(12,26,9)',15,'#333'],['DIF:1.764',101,'#000'],['↑',162,'#000'],['DEA:1.758',174,MAG],['↑',237,MAG],['MACD:0.011',247,'#777'],['↑',315,'#777']],12,6);
  condText(ctx,'«',0,139,'#888',"13px 'DejaVu Sans'",1);
  ctx.save(); ctx.strokeStyle='#bbb'; ctx.strokeRect(1852.5,130.5,12,16); ctx.restore();
  condText(ctx,'»',1854,139,'#666',"13px 'DejaVu Sans'",1);
}};

const priceChart = new Chart(document.getElementById('cPrice'), {
  type:'bar',
  data:{datasets:[
    {type:'line', data:zigData, borderColor:BLUE, borderWidth:1.2, pointRadius:0, tension:0, spanGaps:false, order:0},
    {type:'bar', data:candleData, backgroundColor:upBar.map(u=>u?RED:GREEN), barThickness:1, minBarLength:1, order:1}
  ]},
  options:Object.assign({}, common, {layout:{padding:{left:4,right:0,top:4,bottom:2}},
    scales:{x:xHidden(), y:yScale(3220.72,3431.87,priceTicks,9)}}),
  plugins:[priceOverlay, priceFrame]
});
pin(priceChart, yc => 3420 + (35.7 - yc)/2.6711);

const volChart = new Chart(document.getElementById('cVol'), {
  type:'bar',
  data:{datasets:[
    {type:'line', data:ma1Data, borderColor:MAG, borderWidth:1, pointRadius:0, tension:0, order:0},
    {type:'line', data:ma2Data, borderColor:'#808080', borderWidth:1, pointRadius:0, tension:0, order:1},
    {type:'bar', data:volData, backgroundColor:upBar.map(u=>u?RED:GREEN), barThickness:1, order:2}
  ]},
  options:Object.assign({}, common, {layout:{padding:{left:4,right:0,top:2,bottom:8}},
    scales:{x:xHidden(), y:yScale(0,4512,volTicks,9)}}),
  plugins:[volFrame]
});
pin(volChart, yc => (692 - (570 + yc))*37.6);

const macdChart = new Chart(document.getElementById('cMacd'), {
  type:'bar',
  data:{datasets:[
    {type:'line', data:difData, borderColor:'#000', borderWidth:1, pointRadius:0, tension:0, order:0},
    {type:'line', data:deaData, borderColor:MAG, borderWidth:1, pointRadius:0, tension:0, order:1},
    {type:'bar', data:histData, backgroundColor:macdHist.map(v=>v>=0?RED:GREEN), barThickness:1, order:2}
  ]},
  options:Object.assign({}, common, {layout:{padding:{left:4,right:0,top:2,bottom:2}},
    scales:{
      x:{type:'linear', min:-0.5, max:nBars-0.5, offset:false, position:'bottom',
        grid:{display:true, offset:false, drawOnChartArea:false, drawTicks:true, tickLength:4, tickColor:'#888', color:'#888'},
        border:{display:false},
        afterBuildTicks(s){ s.ticks = xTickStamps.map(t=>({value:categories.indexOf(t)})); },
        afterFit(s){ s.height = 20; s.paddingLeft = 0; s.paddingRight = 0; },
        ticks:{autoSkip:false, maxRotation:0, minRotation:0, align:'start', padding:0, color:'#333', font:{family:"'Liberation Mono'", size:11},
          callback(v){ const t=categories[Math.round(v)]||''; const p=t.split(' '); return p[1]==='09:35'?p[0]:p[1]; }}},
      y:yScale(-13.68,12.94,macdTicks,15)
    }}),
  plugins:[macdFrame]
});
pin(macdChart, yc => 8.08 - (694 + yc - 719)/4.733);
</script></body></html>
